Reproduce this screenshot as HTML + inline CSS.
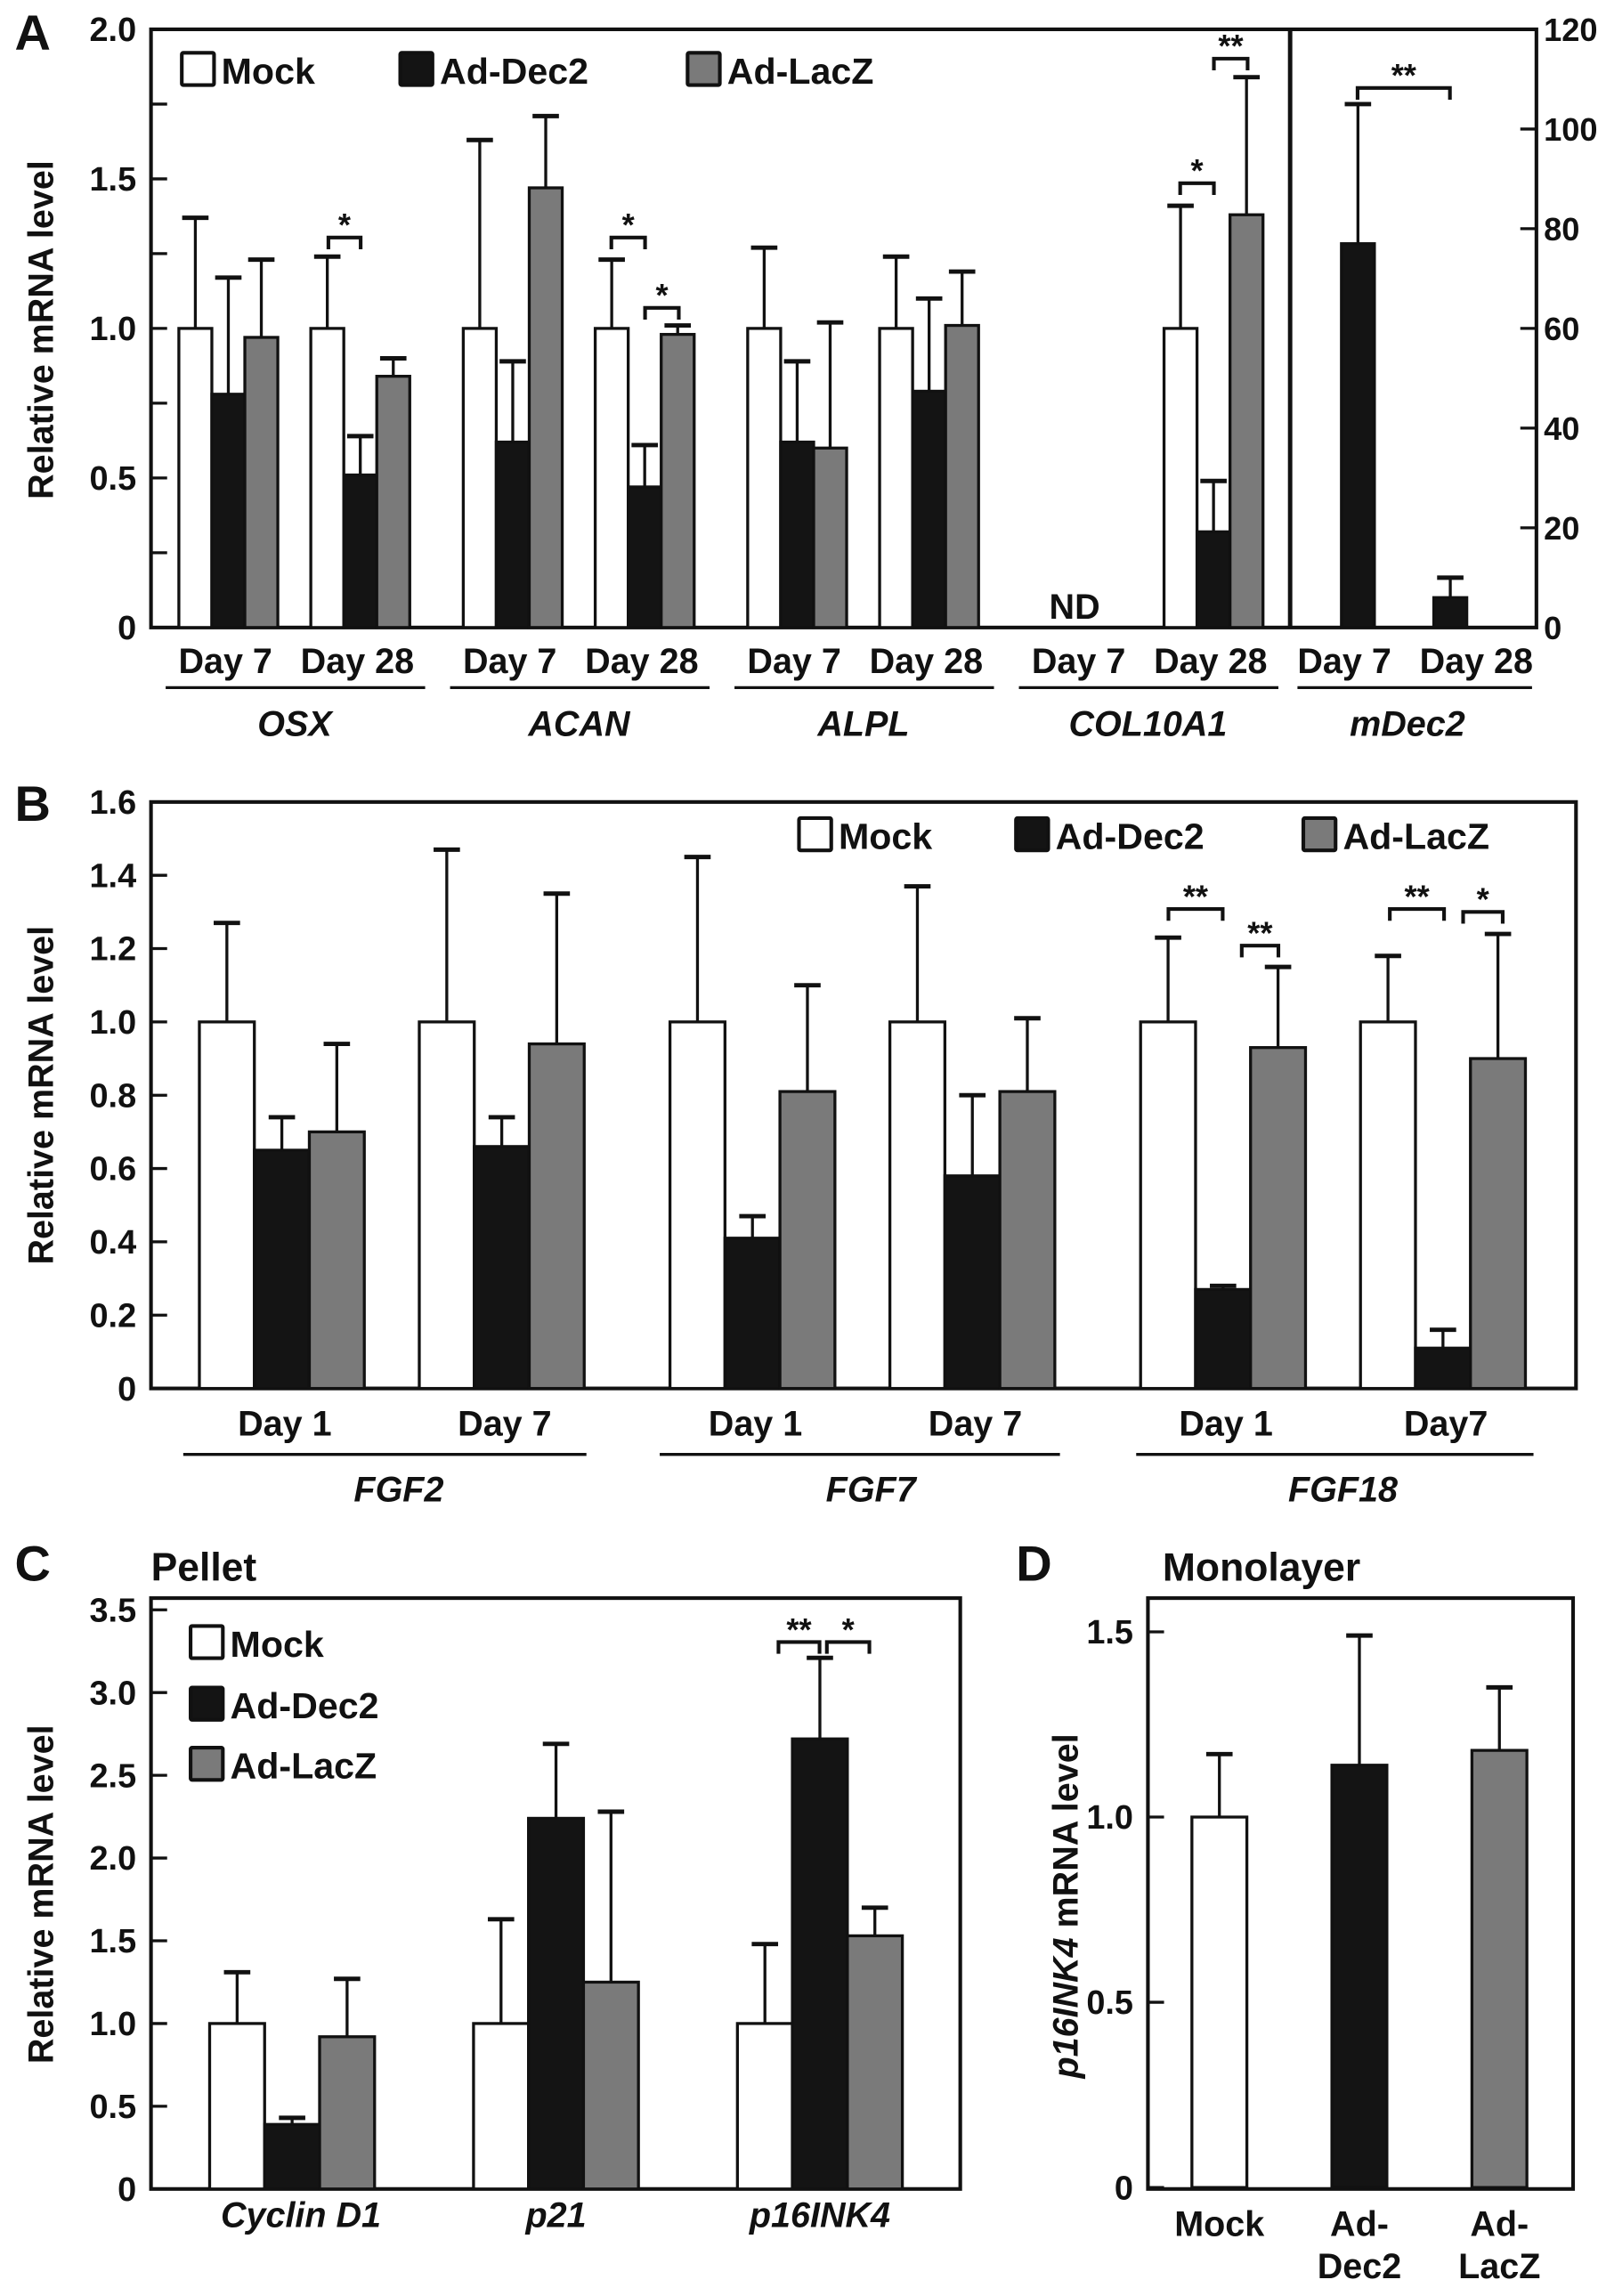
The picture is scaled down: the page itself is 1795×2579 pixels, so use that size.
<!DOCTYPE html>
<html><head><meta charset="utf-8">
<style>
html,body{margin:0;padding:0;background:#fff;}
svg{display:block;}
text{font-family:"Liberation Sans",Arial,sans-serif;font-weight:bold;fill:#111;}
</style></head>
<body>
<svg id="fig" width="1795" height="2579" viewBox="0 0 1090 1566" preserveAspectRatio="none" xmlns="http://www.w3.org/2000/svg"></svg>
<script>
// ---------- DATA ----------
const seriesNames = ["Mock","Ad-Dec2","Ad-LacZ"];
const fills = ["#ffffff","#141414","#7a7a7a"];
// Panel A (left axis), order: [gene][day][series]
const aGenes = ["OSX","ACAN","ALPL","COL10A1"];
const aDays = ["Day 7","Day 28"];
const aMean = [[[1.0,0.78,0.97],[1.0,0.51,0.84]],[[1.0,0.62,1.47],[1.0,0.47,0.98]],[[1.0,0.62,0.60],[1.0,0.79,1.01]],[null,[1.0,0.32,1.38]]];
const aErr  = [[[1.37,1.17,1.23],[1.24,0.64,0.90]],[[1.63,0.89,1.71],[1.23,0.61,1.01]],[[1.27,0.89,1.02],[1.24,1.10,1.19]],[null,[1.41,0.49,1.84]]];
const aTicks = [0,0.5,1.0,1.5,2.0];
const aTickLabels = ["0","0.5","1.0","1.5","2.0"];
const mDecDays = ["Day 7","Day 28"];
const mDecMean = [77,6];
const mDecErr = [105,10];
const rTicks = [0,20,40,60,80,100,120];
// Panel B
const bGenes = ["FGF2","FGF7","FGF18"];
const bDays = [["Day 1","Day 7"],["Day 1","Day 7"],["Day 1","Day7"]];
const bMean = [[[1.0,0.65,0.70],[1.0,0.66,0.94]],[[1.0,0.41,0.81],[1.0,0.58,0.81]],[[1.0,0.27,0.93],[1.0,0.11,0.90]]];
const bErr  = [[[1.27,0.74,0.94],[1.47,0.74,1.35]],[[1.45,0.47,1.10],[1.37,0.80,1.01]],[[1.23,0.28,1.15],[1.18,0.16,1.24]]];
const bTicks = [0,0.2,0.4,0.6,0.8,1.0,1.2,1.4,1.6];
const bTickLabels = ["0","0.2","0.4","0.6","0.8","1.0","1.2","1.4","1.6"];
// Panel C
const cGenes = ["Cyclin D1","p21","p16INK4"];
const cMean = [[1.0,0.39,0.92],[1.0,2.24,1.25],[1.0,2.72,1.53]];
const cErr  = [[1.31,0.43,1.27],[1.63,2.69,2.28],[1.48,3.21,1.70]];
const cTicks = [0,0.5,1.0,1.5,2.0,2.5,3.0,3.5];
const cTickLabels = ["0","0.5","1.0","1.5","2.0","2.5","3.0","3.5"];
// Panel D
const dCats = [["Mock"],["Ad-","Dec2"],["Ad-","LacZ"]];
const dMean = [1.0,1.14,1.18];
const dErr = [1.17,1.49,1.35];
const dTicks = [0,0.5,1.0,1.5];
const dTickLabels = ["0","0.5","1.0","1.5"];

// ---------- HELPERS ----------
const svg = document.getElementById('fig');
const NS = 'http://www.w3.org/2000/svg';
function mk(tag, attrs, parent){
  const e = document.createElementNS(NS, tag);
  for (const k in attrs) e.setAttribute(k, attrs[k]);
  (parent||svg).appendChild(e);
  return e;
}
function txt(x,y,s,size,anchor,extra){
  const e = mk('text',Object.assign({x:x,y:y,'font-size':size,'text-anchor':anchor||'middle'},extra||{}));
  e.textContent = s;
  return e;
}
function lin(x1,y1,x2,y2,w){
  return mk('line',{x1:x1,y1:y1,x2:x2,y2:y2,stroke:'#111','stroke-width':w||2});
}
function scale(d0,d1,r0,r1){ return v => r0 + (v-d0)/(d1-d0)*(r1-r0); }
function bar(x,w,y0,yv,ye,si,name){
  const r = mk('rect',{x:x,y:Math.min(yv,y0),width:w,height:Math.abs(y0-yv),fill:fills[si],stroke:'#111','stroke-width':2});
  
  
  const cx = x + w/2;
  const l = lin(cx,yv,cx,ye,2);
  
  
  const c = lin(cx-9,ye,cx+9,ye,3);
  
  
}
function bracket(x1,x2,y,label){
  const p = mk('path',{d:`M${x1},${y+8} L${x1},${y} L${x2},${y} L${x2},${y+8}`,fill:'none',stroke:'#111','stroke-width':2.5});
  
  
  const t = txt((x1+x2)/2, y-1, label, 22);
  
  
}
function legendEntry(x,y,si,size){
  const r = mk('rect',{x:x,y:y,width:22,height:22,fill:fills[si],stroke:'#111','stroke-width':2.5,rx:1});
  
  
  const t = txt(x+27, y+21, seriesNames[si], size||25, 'start');
  
  
}
function yAxisTicks(xAxis, ys, ticks, labels, minor, side){
  ticks.forEach((v,i)=>{
    const y = ys(v);
    const dir = side==='right' ? -1 : 1;
    const t = lin(xAxis, y, xAxis + dir*11, y, 2);
    
    
    const lb = txt(side==='right' ? xAxis+5 : xAxis-10, y+8, labels[i], side==='right'?22:23, side==='right'?'start':'end');
    
    
  });
  if (minor) {
    for (let i=0;i<ticks.length-1;i++){
      const y = ys((ticks[i]+ticks[i+1])/2);
      const dir = side==='right' ? -1 : 1;
      const t = lin(xAxis, y, xAxis + dir*11, y, 2);
      
      
    }
  }
}
function panelLetter(x,y,s){
  const t = txt(x,y,s,34,'start');
  
  
}
function yTitle(x,y,s,italicPrefix){
  const t = mk('text',{x:0,y:0,'font-size':24,'text-anchor':'middle',transform:`translate(${x},${y}) rotate(-90)`});
  if (italicPrefix){
    const a = mk('tspan',{'font-style':'italic'},t); a.textContent = italicPrefix;
    const b = mk('tspan',{},t); b.textContent = s;
  } else t.textContent = s;
  
  
}

// ---------- PANEL A ----------
panelLetter(10, 34, 'A');
const aY = scale(0,2.0,428,20);
const aR = scale(0,120,428,20);
let e = mk('rect',{x:103,y:20,width:945,height:408,fill:'none',stroke:'#111','stroke-width':2.5});


e = lin(880,20,880,428,3);


yAxisTicks(103, aY, aTicks, aTickLabels, true, 'left');
yAxisTicks(1048, aR, rTicks, rTicks.map(String), false, 'right');
yTitle(36, 225, 'Relative mRNA level');
const aBw = 22.5;
aGenes.forEach((g,gi)=>{
  aDays.forEach((d,di)=>{
    const x0 = 122 + gi*194 + di*90;
    if (aMean[gi][di]) {
      aMean[gi][di].forEach((v,si)=>{
        bar(x0+si*aBw, aBw, aY(0), aY(v), aY(aErr[gi][di][si]), si, 'bar-a-'+g.toLowerCase()+'-'+d.replace(' ','').toLowerCase()+'-'+si);
      });
    }
    const t = txt(x0+aBw*1.5 - 2, 459, d, 24);
    
    
  });
  const u = lin(113+gi*194, 469, 290+gi*194, 469, 2);
  
  
  const gt = txt(201+gi*194, 502, g, 24, 'middle', {'font-style':'italic'});
  
  
});
e = txt(733, 422, 'ND', 24);


const mDecLabelX = [917, 1007];
mDecDays.forEach((d,i)=>{
  const x = 915 + i*63;
  bar(x, aBw, aR(0), aR(mDecMean[i]), aR(mDecErr[i]), 1, 'bar-a-mdec2-'+i);
  const t = txt(mDecLabelX[i], 459, d, 24);
  
  
});
e = lin(885,469,1045,469,2);


e = txt(960, 502, 'mDec2', 24, 'middle', {'font-style':'italic'});


legendEntry(124,36,0,25); legendEntry(273,36,1,25); legendEntry(469,36,2,25);
bracket(224,246,162,'*');
bracket(417,440,162,'*');
bracket(440,463,210,'*');
bracket(805,828,125,'*');
bracket(828,851,40,'**');
bracket(926,989,60,'**');

// ---------- PANEL B ----------
panelLetter(10, 560, 'B');
const bY = scale(0,1.6,947,547);
e = mk('rect',{x:103,y:547,width:972,height:400,fill:'none',stroke:'#111','stroke-width':2.5});


yAxisTicks(103, bY, bTicks, bTickLabels, false, 'left');
yTitle(36, 747, 'Relative mRNA level');
const bBw = 37.5;
bGenes.forEach((g,gi)=>{
  [0,1].forEach(di=>{
    const x0 = 136 + gi*321 + di*150;
    bMean[gi][di].forEach((v,si)=>{
      bar(x0+si*bBw, bBw, bY(0), bY(v), bY(bErr[gi][di][si]), si, 'bar-b-'+g.toLowerCase()+'-'+di+'-'+si);
    });
    const t = txt(x0+bBw*1.5 + 2, 979, bDays[gi][di], 24);
    
    
  });
  const u = lin(125+gi*325, 992, 400+gi*323, 992, 2);
  
  
  const gt = txt(272+gi*322, 1024, g, 24, 'middle', {'font-style':'italic'});
  
  
});
legendEntry(545,558,0,25); legendEntry(693,558,1,25); legendEntry(889,558,2,25);
bracket(797,834,620,'**');
bracket(847,872,645,'**');
bracket(948,985,620,'**');
bracket(998,1025,622,'*');

// ---------- PANEL C ----------
panelLetter(10, 1078, 'C');
e = txt(103, 1078, 'Pellet', 27, 'start');


const cY = scale(0,3.5,1493,1098);
e = mk('rect',{x:103,y:1090,width:552,height:403,fill:'none',stroke:'#111','stroke-width':2.5});


yAxisTicks(103, cY, cTicks, cTickLabels, false, 'left');
yTitle(36, 1292, 'Relative mRNA level');
cGenes.forEach((g,gi)=>{
  const x0 = 143 + gi*180;
  cMean[gi].forEach((v,si)=>{
    bar(x0+si*bBw, bBw, cY(0), cY(v), cY(cErr[gi][si]), si, 'bar-c-'+gi+'-'+si);
  });
  const t = txt(x0+bBw*1.5 + (gi===0?6:0), 1519, g, 24, 'middle', {'font-style':'italic'});
  
  
});
legendEntry(130,1109,0,25); legendEntry(130,1151,1,25); legendEntry(130,1192,2,25);
bracket(531,559,1120,'**');
bracket(564,593,1120,'*');

// ---------- PANEL D ----------
panelLetter(693, 1078, 'D');
e = txt(793, 1078, 'Monolayer', 27, 'start');


const dY = scale(0,1.5,1492,1113);
e = mk('rect',{x:783,y:1090,width:290,height:403,fill:'none',stroke:'#111','stroke-width':2.5});


yAxisTicks(783, dY, dTicks, dTickLabels, false, 'left');
yTitle(735, 1300, ' mRNA level', 'p16INK4');
dMean.forEach((v,i)=>{
  const x = 813 + i*95.5;
  bar(x, bBw, dY(0), dY(v), dY(dErr[i]), i, 'bar-d-'+i);
  dCats[i].forEach((s,k)=>{
    const t = txt(x+bBw/2, 1525 + k*29, s, 24);
    
    
  });
});
</script>
</body></html>
